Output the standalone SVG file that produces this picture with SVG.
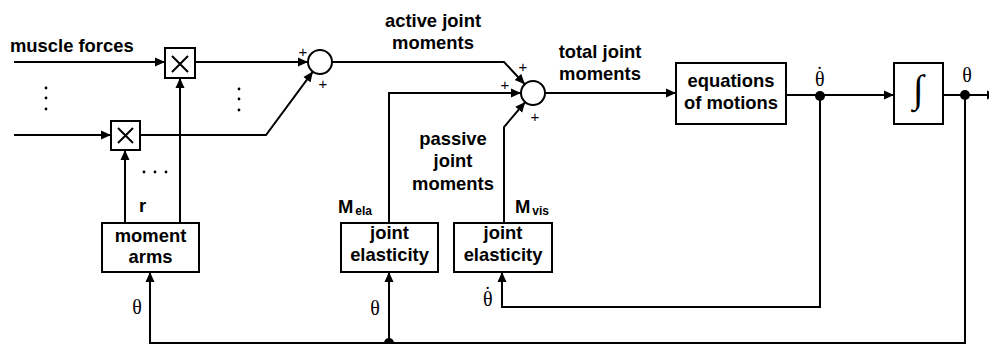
<svg xmlns="http://www.w3.org/2000/svg" width="989" height="344" viewBox="0 0 989 344">
<defs>
<marker id="ah" viewBox="0 0 10 10" refX="10" refY="5" markerWidth="10" markerHeight="10" markerUnits="userSpaceOnUse" orient="auto">
<path d="M0,0.5 L10,5 L0,9.5 Z" fill="#000"/>
</marker>
<style>
.b{fill:#fff;stroke:#000;stroke-width:2}
.l{fill:none;stroke:#000;stroke-width:2}
.t{font-family:"Liberation Sans",Arial,sans-serif;font-weight:bold;font-size:18.4px;fill:#000}
.s{font-family:"Liberation Sans",Arial,sans-serif;font-weight:bold;font-size:12px;fill:#000}
.g{font-family:"Liberation Serif","Times New Roman",serif;font-size:20px;fill:#000;text-anchor:middle}
.gs{font-family:"Liberation Serif","Times New Roman",serif;font-size:20px;fill:#000}
.i{font-family:"Liberation Serif","Times New Roman",serif;font-size:39px;fill:#000;text-anchor:middle}
.p{font-family:"Liberation Sans",Arial,sans-serif;font-size:15px;fill:#000;text-anchor:middle}
.m{text-anchor:middle}
</style>
</defs>
<rect width="989" height="344" fill="#fff"/>
<g id="connectors">
<path class="l" d="M14,62 H165" marker-end="url(#ah)"/>
<path class="l" d="M14,135 H111" marker-end="url(#ah)"/>
<path class="l" d="M195,62 H308" marker-end="url(#ah)"/>
<path class="l" d="M140,135 H266 L312.9,71.6" marker-end="url(#ah)"/>
<path class="l" d="M180,223 V78" marker-end="url(#ah)"/>
<path class="l" d="M125,223 V150" marker-end="url(#ah)"/>
<path class="l" d="M332,62 H504 L524.8,84.2" marker-end="url(#ah)"/>
<path class="l" d="M389,223 V93 H521" marker-end="url(#ah)"/>
<path class="l" d="M504,223 V127 L525.2,102.1" marker-end="url(#ah)"/>
<path class="l" d="M545,93 H676" marker-end="url(#ah)"/>
<path class="l" d="M786,95 H894" marker-end="url(#ah)"/>
<path class="l" d="M943,95 H997" marker-end="url(#ah)"/>
<path class="l" d="M820,96 V307 H502 V272" marker-end="url(#ah)"/>
<path class="l" d="M965,95 V343 H150 V272" marker-end="url(#ah)"/>
<path class="l" d="M389,343 V272" marker-end="url(#ah)"/>
<circle cx="820" cy="96" r="5" fill="#000"/>
<circle cx="965" cy="95" r="5" fill="#000"/>
<circle cx="389" cy="343" r="5" fill="#000"/>
</g>
<g id="mult1">
<rect class="b" x="165" y="48" width="30" height="30"/>
<path class="l" d="M172,56 L188,72 M188,56 L172,72" stroke-width="1.8"/>
</g>
<g id="mult2">
<rect class="b" x="111" y="121" width="29" height="29"/>
<path class="l" d="M118,128 L133,143 M133,128 L118,143" stroke-width="1.8"/>
</g>
<g id="sum1">
<circle class="b" cx="320" cy="62" r="12"/>
<text class="p" x="303" y="57">+</text>
<text class="p" x="323" y="89">+</text>
</g>
<g id="sum2">
<circle class="b" cx="533" cy="93" r="12"/>
<text class="p" x="523" y="72">+</text>
<text class="p" x="505" y="90">+</text>
<text class="p" x="535" y="122">+</text>
</g>
<g id="eom">
<rect class="b" x="676" y="63" width="110" height="61"/>
<text class="t m" x="731" y="87">equations</text>
<text class="t m" x="731" y="109">of motions</text>
</g>
<g id="integrator">
<rect class="b" x="894" y="63" width="49" height="61"/>
<text class="i" x="918" y="102">∫</text>
</g>
<g id="momentarms">
<rect class="b" x="102" y="223" width="97" height="49"/>
<text class="t m" x="150.5" y="242">moment</text>
<text class="t m" x="150.5" y="263">arms</text>
</g>
<g id="elasticity1">
<rect class="b" x="341" y="223" width="97" height="49"/>
<text class="t m" x="389.5" y="239">joint</text>
<text class="t m" x="389.5" y="261">elasticity</text>
</g>
<g id="elasticity2">
<rect class="b" x="454" y="223" width="98" height="49"/>
<text class="t m" x="503" y="239">joint</text>
<text class="t m" x="503" y="261">elasticity</text>
</g>
<g id="labels">
<text class="t" x="10" y="52">muscle forces</text>
<text class="t m" x="433" y="27">active joint</text>
<text class="t m" x="433" y="49">moments</text>
<text class="t m" x="600" y="58">total joint</text>
<text class="t m" x="600" y="80">moments</text>
<text class="t m" x="453" y="145">passive</text>
<text class="t m" x="453" y="167">joint</text>
<text class="t m" x="453" y="190">moments</text>
<text class="t" x="139" y="212">r</text>
<text class="t" x="338" y="213">M<tspan class="s" dx="2" dy="2">ela</tspan></text>
<text class="t" x="515" y="213">M<tspan class="s" dx="2" dy="2">vis</tspan></text>
<text class="g" x="137" y="314">θ</text>
<text class="g" x="375" y="315">θ</text>
<text class="gs" x="483" y="306">θ<tspan dx="-8.3" dy="-5">˙</tspan></text>
<text class="gs" x="815" y="86">θ<tspan dx="-8.3" dy="-5">˙</tspan></text>
<text class="g" x="967" y="82">θ</text>
<circle cx="46" cy="88" r="1.4"/><circle cx="46" cy="98" r="1.4"/><circle cx="46" cy="109" r="1.4"/>
<circle cx="239" cy="89" r="1.4"/><circle cx="239" cy="99" r="1.4"/><circle cx="239" cy="110" r="1.4"/>
<circle cx="144" cy="172" r="1.4"/><circle cx="155" cy="172" r="1.4"/><circle cx="166" cy="172" r="1.4"/>
</g>
</svg>
